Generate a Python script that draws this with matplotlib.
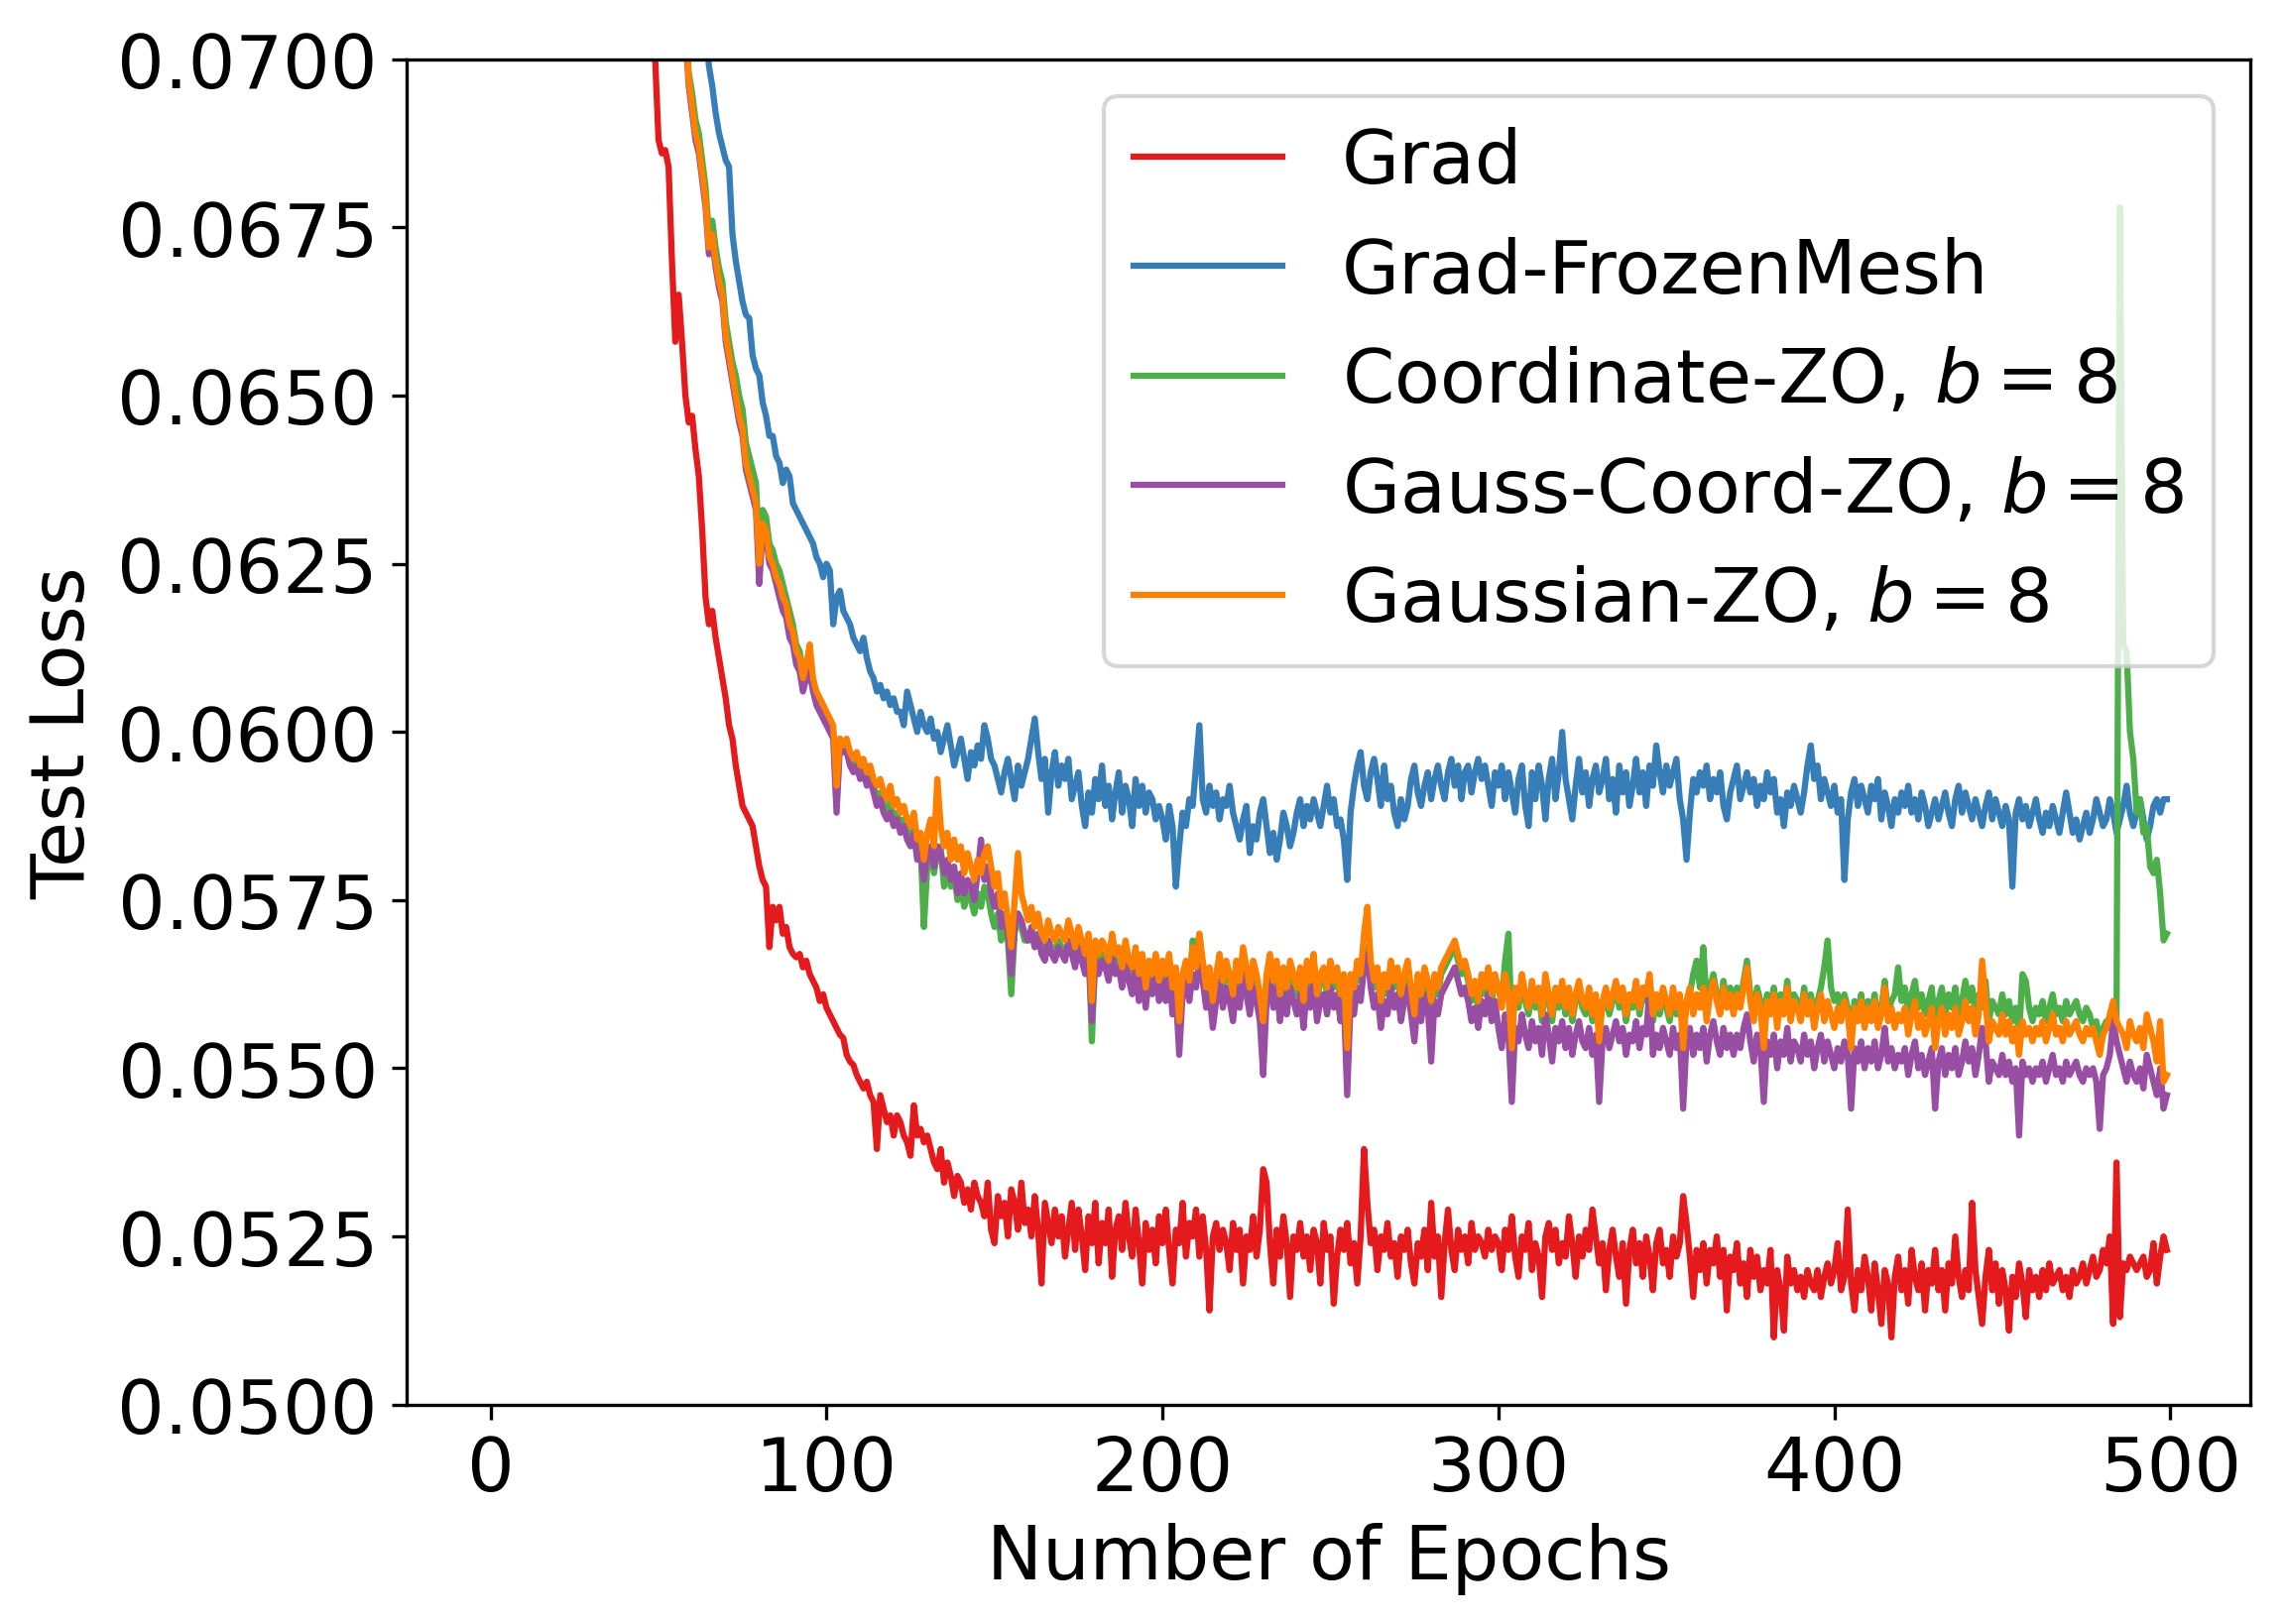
import numpy as np
import matplotlib
matplotlib.use("Agg")
import matplotlib.pyplot as plt
from matplotlib.ticker import FormatStrFormatter, MultipleLocator

# Test loss in units of 1e-5, one value per epoch; each series ends at epoch 499
grad = [
 7150, 7000, 6880, 6860, 6865, 6840, 6700, 6580, 6650, 6580, 6500, 6460,
 6470, 6420, 6380, 6300, 6200, 6160, 6180, 6140, 6110, 6080,
 6050, 6010, 5990, 5950, 5920, 5890, 5880, 5870, 5860, 5830,
 5800, 5780, 5770, 5680, 5740, 5720, 5740, 5700, 5710, 5680,
 5670, 5665, 5670, 5650, 5660, 5640, 5630, 5620, 5600, 5610,
 5590, 5580, 5570, 5560, 5550, 5545, 5520, 5510, 5505, 5490,
 5480, 5470, 5480, 5460, 5450, 5380, 5460, 5440, 5420, 5430,
 5400, 5430, 5420, 5400, 5390, 5370, 5445, 5400, 5410, 5390,
 5400, 5380, 5360, 5350, 5380, 5330, 5360, 5340, 5310, 5340,
 5330, 5300, 5320, 5290, 5330, 5310, 5300, 5280, 5330, 5260,
 5240, 5310, 5280, 5300, 5250, 5320, 5300, 5260, 5330, 5270,
 5290, 5250, 5310, 5260, 5180, 5300, 5270, 5240, 5290, 5250,
 5280, 5220, 5260, 5300, 5230, 5290, 5250, 5200, 5280, 5240,
 5300, 5210, 5270, 5240, 5290, 5190, 5260, 5280, 5230, 5300,
 5250, 5220, 5290, 5240, 5180, 5270, 5230, 5260, 5210, 5280,
 5240, 5290, 5230, 5180, 5260, 5240, 5300, 5220, 5270, 5250,
 5290, 5220, 5280, 5230, 5140, 5250, 5270, 5230, 5260, 5240,
 5200, 5270, 5230, 5260, 5180, 5250, 5230, 5280, 5220, 5260,
 5350, 5330, 5240, 5180, 5260, 5220, 5280, 5240, 5160, 5250,
 5230, 5270, 5220, 5250, 5200, 5260, 5240, 5180, 5270, 5230,
 5250, 5150, 5220, 5260, 5230, 5270, 5210, 5240, 5180, 5250,
 5380, 5300, 5240, 5260, 5200, 5250, 5230, 5270, 5220, 5240,
 5190, 5250, 5230, 5260, 5210, 5180, 5240, 5220, 5260, 5200,
 5300, 5220, 5250, 5160, 5240, 5290, 5230, 5200, 5260, 5230,
 5250, 5210, 5270, 5230, 5250, 5240, 5220, 5260, 5230, 5250,
 5240, 5200, 5260, 5230, 5280, 5220, 5190, 5250, 5230, 5270,
 5200, 5240, 5220, 5160, 5250, 5270, 5230, 5260, 5210, 5240,
 5220, 5280, 5240, 5190, 5250, 5220, 5260, 5230, 5290, 5250,
 5210, 5240, 5170, 5230, 5260, 5220, 5190, 5240, 5150, 5230,
 5260, 5210, 5240, 5190, 5250, 5220, 5170, 5240, 5260, 5210,
 5230, 5190, 5250, 5220, 5240, 5310, 5270, 5220, 5160, 5230,
 5200, 5240, 5180, 5230, 5210, 5250, 5190, 5230, 5140, 5220,
 5200, 5240, 5180, 5210, 5160, 5230, 5190, 5220, 5170, 5200,
 5180, 5230, 5100, 5200, 5170, 5110, 5220, 5180, 5200, 5170,
 5190, 5160, 5200, 5180, 5170, 5200, 5160, 5190, 5210, 5180,
 5200, 5240, 5170, 5190, 5290, 5180, 5140, 5200, 5170, 5220,
 5190, 5140, 5210, 5170, 5120, 5200, 5180, 5100, 5190, 5220,
 5170, 5200, 5150, 5230, 5190, 5170, 5210, 5140, 5200, 5180,
 5230, 5170, 5200, 5140, 5210, 5180, 5250, 5190, 5160, 5200,
 5170, 5300, 5200, 5160, 5120, 5190, 5230, 5170, 5210, 5150,
 5200, 5170, 5110, 5190, 5160, 5210, 5180, 5130, 5200, 5170,
 5190, 5160, 5200, 5170, 5210, 5180, 5190, 5200, 5170, 5190,
 5160, 5200, 5180, 5190, 5210, 5180, 5200, 5220, 5190, 5200,
 5230, 5210, 5250, 5120, 5360, 5130, 5210, 5200, 5220, 5210,
 5200, 5210, 5220, 5190, 5200, 5240, 5180, 5220, 5250, 5230,
]

frozen = [
 7150, 7050, 6990, 6960, 6920, 6890, 6870,
 6850, 6840, 6740, 6700, 6670, 6640, 6620, 6615, 6560, 6540,
 6530, 6490, 6470, 6440, 6440, 6410, 6400, 6370, 6390, 6380,
 6340, 6330, 6320, 6310, 6300, 6290, 6280, 6260, 6250, 6230,
 6250, 6240, 6160, 6200, 6210, 6180, 6170, 6160, 6140, 6130,
 6120, 6140, 6110, 6090, 6080, 6060, 6070, 6050, 6060, 6040,
 6050, 6030, 6030, 6010, 6060, 6040, 6020, 6000, 6030, 6010,
 6000, 6020, 5990, 6000, 5970, 5990, 6010, 5980, 5950, 5970,
 5990, 5960, 5930, 5970, 5950, 5980, 5960, 6010, 5990, 5960,
 5950, 5930, 5910, 5940, 5960, 5930, 5900, 5950, 5920, 5940,
 5960, 5990, 6020, 5970, 5930, 5960, 5880, 5940, 5970, 5920,
 5950, 5930, 5960, 5900, 5920, 5940, 5890, 5860, 5910, 5880,
 5930, 5900, 5950, 5890, 5920, 5870, 5910, 5940, 5880, 5920,
 5900, 5860, 5930, 5890, 5920, 5880, 5910, 5900, 5870, 5890,
 5870, 5840, 5890, 5860, 5770, 5830, 5880, 5860, 5900, 5890,
 5950, 6010, 5900, 5880, 5920, 5890, 5910, 5870, 5900, 5890,
 5920, 5880, 5860, 5840, 5870, 5890, 5820, 5860, 5840, 5880,
 5900, 5860, 5820, 5850, 5810, 5840, 5880, 5860, 5830, 5850,
 5880, 5900, 5860, 5890, 5870, 5900, 5880, 5860, 5890, 5920,
 5880, 5900, 5860, 5870, 5840, 5780, 5880, 5920, 5950, 5970,
 5920, 5900, 5940, 5960, 5930, 5890, 5950, 5900, 5920, 5880,
 5860, 5900, 5870, 5890, 5930, 5950, 5910, 5890, 5920, 5940,
 5900, 5930, 5950, 5920, 5900, 5940, 5960, 5920, 5950, 5900,
 5940, 5950, 5910, 5940, 5960, 5930, 5950, 5920, 5890, 5940,
 5920, 5950, 5900, 5940, 5910, 5880, 5930, 5950, 5890, 5860,
 5940, 5900, 5950, 5920, 5870, 5930, 5960, 5900, 5940, 6000,
 5930, 5900, 5870, 5920, 5960, 5910, 5940, 5890, 5930, 5950,
 5910, 5930, 5960, 5900, 5930, 5880, 5950, 5910, 5940, 5890,
 5920, 5960, 5910, 5940, 5890, 5950, 5920, 5980, 5940, 5910,
 5950, 5920, 5940, 5960, 5900, 5870, 5810, 5880, 5930, 5910,
 5940, 5920, 5950, 5900, 5930, 5910, 5940, 5890, 5870, 5910,
 5930, 5950, 5900, 5920, 5940, 5910, 5930, 5890, 5920, 5900,
 5940, 5910, 5930, 5880, 5900, 5860, 5910, 5890, 5920, 5900,
 5880, 5910, 5950, 5980, 5930, 5950, 5900, 5930, 5910, 5890,
 5920, 5880, 5900, 5780, 5870, 5910, 5930, 5890, 5920, 5900,
 5880, 5920, 5900, 5930, 5870, 5910, 5890, 5860, 5900, 5880,
 5910, 5890, 5920, 5880, 5900, 5870, 5910, 5890, 5860, 5880,
 5900, 5870, 5890, 5910, 5880, 5860, 5900, 5920, 5880, 5910,
 5890, 5870, 5900, 5880, 5860, 5890, 5910, 5870, 5900, 5880,
 5860, 5890, 5870, 5770, 5880, 5900, 5870, 5890, 5860, 5880,
 5900, 5870, 5850, 5880, 5860, 5890, 5870, 5850, 5880, 5910,
 5880, 5850, 5870, 5840, 5860, 5880, 5850, 5870, 5900, 5880,
 5860, 5870, 5900, 5880, 5850, 5870, 5890, 5920, 5880, 5860,
 5880, 5900, 5870, 5840, 5860, 5890, 5900, 5880, 5900, 5900,
]

coord_zo = [
 7160, 7060, 6980,
 6950, 6910, 6890, 6850, 6810, 6740, 6760, 6720, 6690, 6670,
 6610, 6580, 6550, 6530, 6500, 6480, 6430, 6410, 6390, 6370,
 6270, 6330, 6320, 6280, 6270, 6250, 6240, 6220, 6200, 6180,
 6160, 6130, 6120, 6090, 6100, 6110, 6070, 6060, 6050, 6040,
 6020, 6010, 6000, 5890, 5990, 5980, 5980, 5960, 5950, 5960,
 5940, 5950, 5930, 5940, 5920, 5900, 5910, 5890, 5880, 5900,
 5870, 5880, 5860, 5870, 5850, 5840, 5860, 5820, 5830, 5710,
 5800, 5820, 5790, 5820, 5830, 5770, 5800, 5770, 5790, 5750,
 5770, 5740, 5760, 5750, 5730, 5760, 5740, 5770, 5760, 5730,
 5710, 5730, 5690, 5710, 5690, 5610, 5700, 5730, 5710, 5690,
 5690, 5700, 5680, 5700, 5680, 5670, 5690, 5680, 5670, 5690,
 5680, 5670, 5690, 5680, 5660, 5690, 5670, 5650, 5680, 5540,
 5670, 5650, 5670, 5660, 5640, 5680, 5650, 5660, 5630, 5670,
 5640, 5630, 5660, 5620, 5650, 5610, 5640, 5620, 5650, 5610,
 5640, 5620, 5650, 5600, 5630, 5550, 5630, 5650, 5620, 5690,
 5670, 5700, 5650, 5610, 5640, 5590, 5630, 5660, 5620, 5650,
 5630, 5610, 5650, 5620, 5670, 5640, 5610, 5650, 5630, 5600,
 5560, 5630, 5660, 5620, 5650, 5600, 5640, 5610, 5650, 5630,
 5610, 5640, 5590, 5650, 5620, 5660, 5600, 5630, 5640, 5610,
 5650, 5620, 5640, 5600, 5630, 5480, 5630, 5610, 5650, 5630,
 5660, 5680, 5640, 5620, 5640, 5590, 5630, 5610, 5650, 5620,
 5640, 5600, 5630, 5650, 5610, 5570, 5630, 5600, 5640, 5620,
 5560, 5630, 5610, 5640, 5650, 5660, 5670, 5680, 5660, 5640,
 5650, 5630, 5600, 5620, 5590, 5630, 5610, 5640, 5600, 5630,
 5620, 5600, 5660, 5700, 5560, 5610, 5590, 5630, 5600, 5580,
 5620, 5590, 5610, 5570, 5630, 5600, 5570, 5610, 5590, 5620,
 5580, 5610, 5570, 5600, 5620, 5590, 5580, 5610, 5570, 5600,
 5560, 5590, 5610, 5580, 5600, 5620, 5590, 5610, 5570, 5600,
 5590, 5620, 5580, 5610, 5600, 5630, 5570, 5600, 5580, 5610,
 5590, 5570, 5610, 5580, 5600, 5560, 5590, 5610, 5640, 5660,
 5620, 5680, 5600, 5620, 5640, 5610, 5590, 5630, 5600, 5620,
 5590, 5620, 5600, 5630, 5660, 5610, 5580, 5620, 5600, 5580,
 5610, 5590, 5620, 5580, 5610, 5590, 5630, 5580, 5610, 5600,
 5580, 5620, 5590, 5610, 5580, 5600, 5620, 5650, 5690, 5620,
 5600, 5610, 5580, 5610, 5590, 5550, 5600, 5580, 5610, 5570,
 5600, 5580, 5610, 5570, 5590, 5630, 5580, 5600, 5610, 5650,
 5600, 5620, 5580, 5610, 5630, 5590, 5610, 5580, 5600, 5620,
 5560, 5600, 5620, 5580, 5610, 5590, 5620, 5580, 5600, 5630,
 5600, 5620, 5580, 5610, 5590, 5630, 5570, 5600, 5590, 5580,
 5610, 5580, 5600, 5570, 5590, 5550, 5640, 5630, 5590, 5570,
 5590, 5580, 5600, 5570, 5590, 5610, 5580, 5590, 5570, 5600,
 5580, 5590, 5600, 5580, 5570, 5590, 5580, 5560, 5570, 5540,
 5560, 5570, 5560, 5580, 5570, 6780, 6130, 6120, 6000, 5960,
 5880, 5900, 5850, 5860, 5800, 5790, 5810, 5760, 5690, 5700,
]

gauss_coord_zo = [
 7140, 7040, 6960,
 6920, 6880, 6860, 6820, 6780, 6710, 6730, 6690, 6660, 6640,
 6580, 6550, 6520, 6490, 6460, 6440, 6390, 6370, 6350, 6330,
 6220, 6300, 6290, 6250, 6240, 6220, 6200, 6180, 6170, 6140,
 6130, 6100, 6090, 6060, 6080, 6090, 6060, 6040, 6030, 6020,
 6010, 6000, 5990, 5880, 5980, 5970, 5970, 5950, 5940, 5950,
 5930, 5940, 5920, 5930, 5910, 5890, 5900, 5880, 5870, 5880,
 5860, 5870, 5850, 5860, 5840, 5830, 5850, 5810, 5820, 5780,
 5820, 5830, 5800, 5830, 5820, 5790, 5810, 5780, 5800, 5760,
 5790, 5760, 5780, 5770, 5750, 5790, 5840, 5780, 5800, 5760,
 5740, 5760, 5710, 5730, 5700, 5640, 5710, 5730, 5720, 5700,
 5690, 5710, 5680, 5700, 5670, 5660, 5690, 5670, 5660, 5680,
 5670, 5660, 5690, 5670, 5650, 5680, 5660, 5640, 5670, 5570,
 5660, 5640, 5660, 5650, 5630, 5670, 5640, 5650, 5620, 5660,
 5630, 5610, 5650, 5600, 5640, 5590, 5630, 5610, 5640, 5600,
 5630, 5600, 5640, 5580, 5610, 5520, 5610, 5630, 5600, 5640,
 5620, 5660, 5630, 5590, 5610, 5560, 5600, 5630, 5590, 5620,
 5600, 5570, 5620, 5590, 5640, 5610, 5580, 5620, 5600, 5570,
 5490, 5600, 5630, 5590, 5620, 5570, 5610, 5580, 5620, 5600,
 5580, 5610, 5560, 5620, 5590, 5630, 5570, 5600, 5610, 5580,
 5620, 5590, 5610, 5570, 5600, 5460, 5600, 5580, 5620, 5600,
 5650, 5670, 5620, 5590, 5610, 5560, 5600, 5580, 5620, 5590,
 5610, 5570, 5600, 5620, 5580, 5540, 5600, 5570, 5610, 5590,
 5510, 5600, 5580, 5610, 5620, 5630, 5640, 5650, 5630, 5610,
 5620, 5600, 5570, 5590, 5560, 5600, 5580, 5610, 5570, 5600,
 5560, 5530, 5580, 5550, 5450, 5560, 5540, 5580, 5550, 5530,
 5570, 5540, 5560, 5520, 5580, 5550, 5510, 5560, 5540, 5570,
 5530, 5560, 5520, 5550, 5570, 5540, 5530, 5560, 5520, 5550,
 5450, 5540, 5560, 5530, 5550, 5570, 5540, 5560, 5520, 5550,
 5540, 5570, 5530, 5560, 5550, 5620, 5520, 5550, 5530, 5560,
 5540, 5520, 5560, 5530, 5550, 5440, 5540, 5560, 5520, 5550,
 5530, 5560, 5510, 5550, 5570, 5540, 5520, 5560, 5530, 5550,
 5520, 5550, 5530, 5560, 5580, 5540, 5510, 5550, 5530, 5450,
 5540, 5520, 5550, 5500, 5540, 5520, 5560, 5510, 5540, 5530,
 5510, 5550, 5520, 5540, 5500, 5530, 5550, 5510, 5540, 5520,
 5500, 5530, 5510, 5540, 5520, 5440, 5530, 5510, 5540, 5500,
 5530, 5510, 5540, 5500, 5520, 5560, 5510, 5530, 5500, 5520,
 5510, 5530, 5490, 5520, 5540, 5500, 5520, 5490, 5510, 5530,
 5440, 5510, 5530, 5490, 5520, 5500, 5530, 5490, 5510, 5540,
 5510, 5530, 5490, 5520, 5560, 5540, 5480, 5510, 5500, 5490,
 5520, 5490, 5510, 5480, 5500, 5400, 5510, 5490, 5500, 5480,
 5500, 5490, 5510, 5480, 5500, 5520, 5490, 5500, 5480, 5510,
 5490, 5500, 5510, 5490, 5480, 5500, 5490, 5500, 5480, 5410,
 5490, 5500, 5520, 5570, 5540, 5520, 5500, 5480, 5510, 5490,
 5480, 5500, 5470, 5520, 5500, 5480, 5460, 5500, 5440, 5460,
]

gaussian_zo = [
 7150, 7050, 6970,
 6930, 6890, 6870, 6830, 6790, 6720, 6740, 6700, 6670, 6650,
 6590, 6560, 6530, 6500, 6470, 6450, 6400, 6380, 6360, 6340,
 6250, 6310, 6300, 6260, 6250, 6230, 6220, 6200, 6190, 6160,
 6150, 6120, 6110, 6080, 6100, 6130, 6080, 6060, 6050, 6040,
 6030, 6020, 6010, 5920, 5990, 5980, 5990, 5970, 5960, 5970,
 5950, 5960, 5940, 5950, 5930, 5920, 5930, 5910, 5900, 5920,
 5890, 5900, 5880, 5890, 5870, 5860, 5880, 5840, 5850, 5810,
 5850, 5870, 5830, 5930, 5860, 5830, 5850, 5810, 5840, 5810,
 5830, 5790, 5820, 5800, 5780, 5810, 5790, 5820, 5830, 5800,
 5770, 5790, 5740, 5760, 5720, 5680, 5750, 5820, 5760, 5740,
 5720, 5740, 5710, 5730, 5700, 5690, 5720, 5700, 5690, 5710,
 5700, 5690, 5720, 5700, 5680, 5710, 5690, 5670, 5700, 5600,
 5690, 5670, 5690, 5680, 5660, 5700, 5670, 5680, 5650, 5690,
 5660, 5650, 5680, 5640, 5670, 5620, 5660, 5640, 5670, 5630,
 5660, 5640, 5670, 5620, 5650, 5570, 5640, 5660, 5630, 5680,
 5650, 5700, 5660, 5620, 5650, 5600, 5640, 5670, 5630, 5660,
 5640, 5610, 5660, 5630, 5680, 5650, 5620, 5660, 5640, 5610,
 5570, 5640, 5670, 5630, 5660, 5610, 5650, 5620, 5660, 5640,
 5620, 5650, 5600, 5660, 5630, 5670, 5610, 5640, 5650, 5620,
 5660, 5630, 5650, 5610, 5640, 5530, 5640, 5620, 5660, 5640,
 5700, 5740, 5660, 5630, 5650, 5600, 5640, 5620, 5660, 5630,
 5650, 5610, 5640, 5660, 5620, 5580, 5640, 5610, 5650, 5630,
 5600, 5640, 5620, 5650, 5660, 5670, 5680, 5690, 5670, 5650,
 5660, 5640, 5610, 5630, 5600, 5640, 5620, 5650, 5610, 5640,
 5620, 5590, 5640, 5610, 5530, 5620, 5600, 5640, 5610, 5590,
 5630, 5600, 5620, 5580, 5640, 5610, 5580, 5620, 5600, 5630,
 5590, 5620, 5580, 5610, 5630, 5600, 5590, 5620, 5580, 5610,
 5540, 5600, 5620, 5590, 5610, 5630, 5600, 5620, 5580, 5610,
 5600, 5630, 5590, 5620, 5610, 5640, 5580, 5610, 5590, 5620,
 5600, 5580, 5620, 5590, 5610, 5530, 5600, 5620, 5580, 5610,
 5590, 5620, 5570, 5610, 5630, 5600, 5580, 5620, 5590, 5610,
 5580, 5610, 5590, 5620, 5650, 5600, 5570, 5610, 5590, 5530,
 5600, 5580, 5610, 5560, 5600, 5580, 5620, 5570, 5600, 5590,
 5570, 5610, 5580, 5600, 5560, 5590, 5610, 5570, 5600, 5580,
 5560, 5590, 5570, 5600, 5580, 5530, 5590, 5570, 5600, 5560,
 5590, 5570, 5600, 5560, 5580, 5620, 5570, 5590, 5560, 5580,
 5570, 5590, 5550, 5580, 5600, 5560, 5580, 5550, 5570, 5590,
 5530, 5570, 5590, 5550, 5580, 5560, 5590, 5550, 5570, 5600,
 5570, 5590, 5550, 5580, 5660, 5600, 5540, 5570, 5560, 5550,
 5580, 5550, 5570, 5540, 5560, 5520, 5570, 5550, 5560, 5540,
 5560, 5550, 5570, 5540, 5560, 5580, 5550, 5560, 5540, 5570,
 5550, 5560, 5570, 5550, 5540, 5560, 5550, 5560, 5540, 5520,
 5550, 5560, 5580, 5600, 5570, 5560, 5550, 5530, 5570, 5550,
 5540, 5560, 5530, 5580, 5560, 5540, 5510, 5570, 5480, 5490,
]

labels = ["Grad", "Grad-FrozenMesh", r"Coordinate-ZO, $b=8$",
          r"Gauss-Coord-ZO, $b=8$", r"Gaussian-ZO, $b=8$"]
series = [grad, frozen, coord_zo, gauss_coord_zo, gaussian_zo]
colors = ["#e41a1c", "#377eb8", "#4daf4a", "#984ea3", "#ff7f00"]
n_epochs = 500

plt.rcParams["font.family"] = ["DejaVu Sans"]
FS = 18

fig = plt.figure(figsize=(7.68, 5.463), dpi=300)
ax = fig.add_axes([0.178, 0.135, 0.807, 0.828])

for vals, lab, col in zip(series, labels, colors):
    y = np.array(vals) * 1e-5
    x = np.arange(n_epochs - len(y), n_epochs)
    ax.plot(x, y, color=col, lw=1.5, label=lab)

ax.set_xlim(-24.95, 523.95)
ax.set_ylim(0.05, 0.07)
ax.yaxis.set_major_locator(MultipleLocator(0.0025))
ax.yaxis.set_major_formatter(FormatStrFormatter("%.4f"))
ax.xaxis.set_major_locator(MultipleLocator(100))
ax.tick_params(labelsize=FS)
ax.set_xlabel("Number of Epochs", fontsize=FS)
ax.set_ylabel("Test Loss", fontsize=FS)
ax.legend(loc="upper right", fontsize=FS)

fig.savefig("out.png", dpi=300)
